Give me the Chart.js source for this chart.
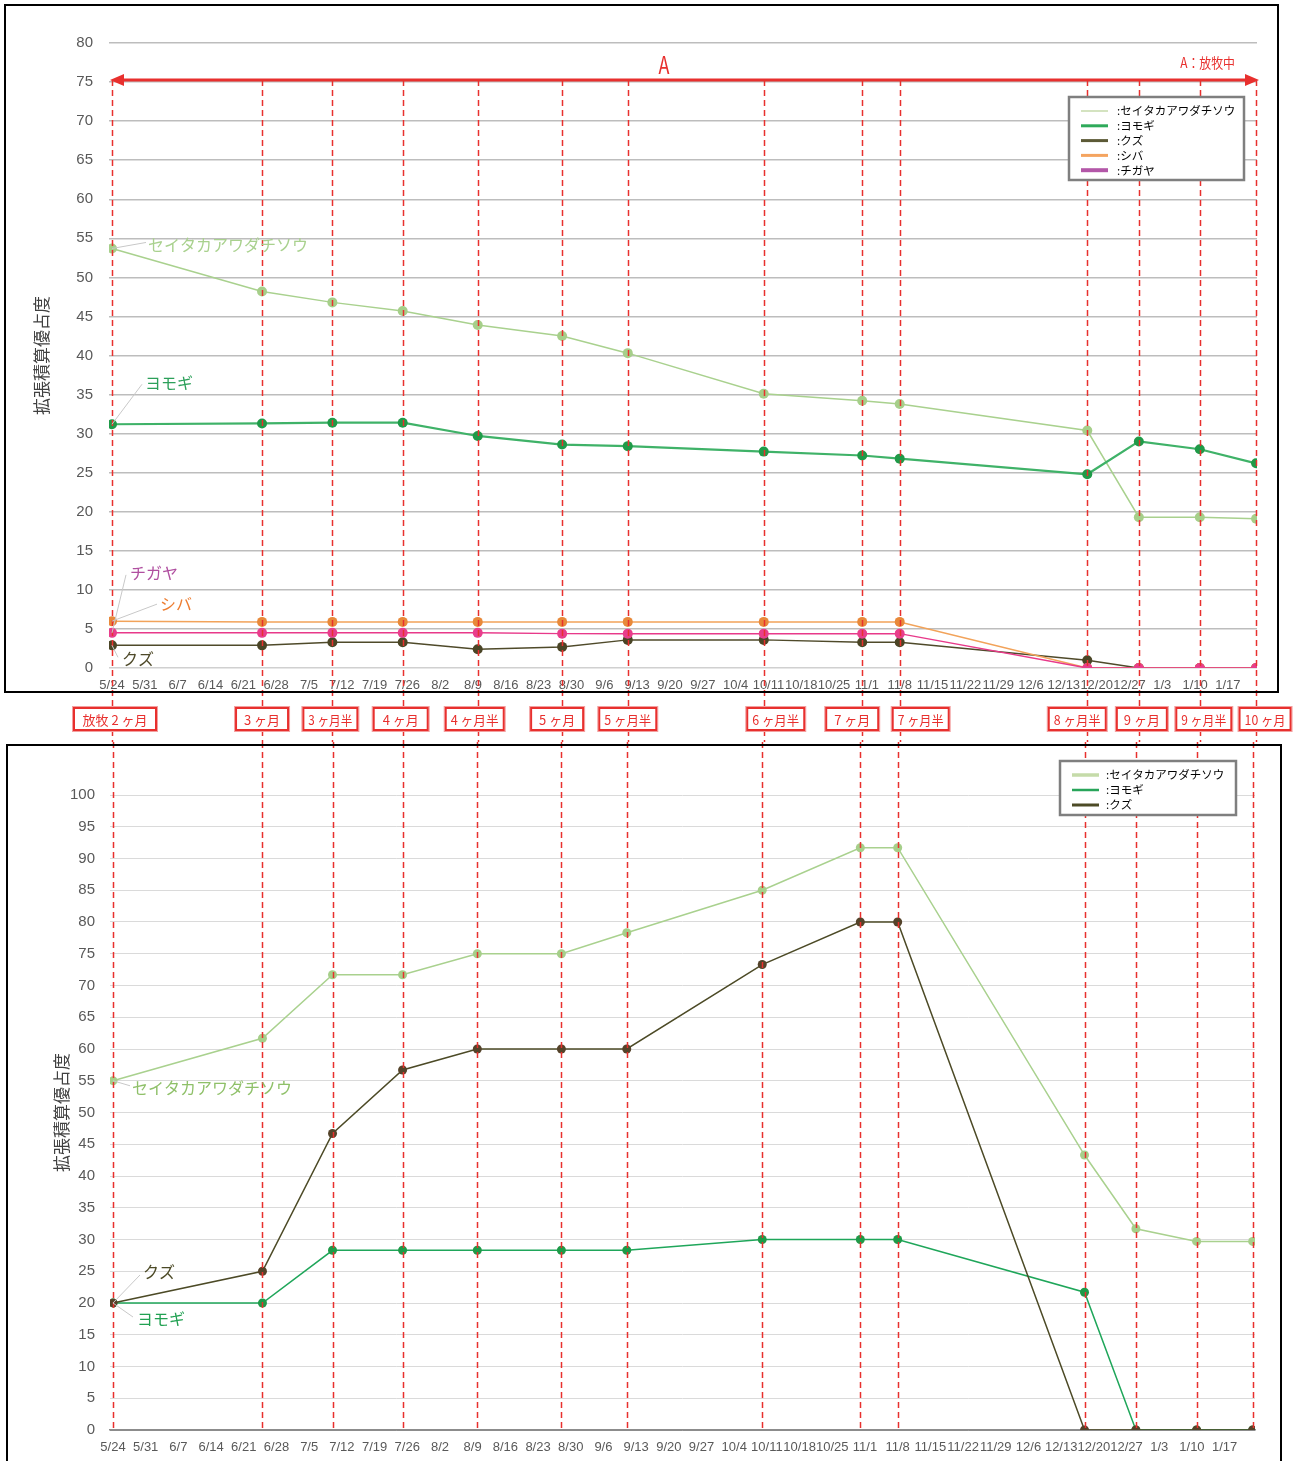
<!DOCTYPE html>
<html>
<head>
<meta charset="utf-8">
<title>拡張積算優占度</title>
<script src="https://cdn.jsdelivr.net/npm/chart.js@4.4.1/dist/chart.umd.min.js"></script>
<style>
html, body { margin: 0; padding: 0; background: #fff; }
#wrap { position: relative; width: 1299px; height: 1461px; overflow: hidden; }
#upper { position: absolute; left: 0; top: 0; }
#lower { position: absolute; left: 0; top: 742px; }
</style>
</head>
<body>
<div id="wrap">
  <canvas id="upper" width="1299" height="742"></canvas>
  <canvas id="lower" width="1299" height="719"></canvas>
</div>
<script>
// survey dates (same for both charts)
const surveyDates = ['5/24', '6/25', '7/10', '7/25', '8/10', '8/28', '9/11', '10/10', '10/31', '11/8', '12/18', '12/29', '1/11', '1/23'];
const stageLabels = ['放牧 2 ヶ月', '3 ヶ月', '3 ヶ月半', '4 ヶ月', '4 ヶ月半', '5 ヶ月', '5 ヶ月半', '6 ヶ月半', '7 ヶ月', '7 ヶ月半', '8 ヶ月半', '9 ヶ月', '9 ヶ月半', '10 ヶ月'];
const tickLabels = ['5/24', '5/31', '6/7', '6/14', '6/21', '6/28', '7/5', '7/12', '7/19', '7/26', '8/2', '8/9', '8/16', '8/23', '8/30', '9/6', '9/13', '9/20', '9/27', '10/4', '10/11', '10/18', '10/25', '11/1', '11/8', '11/15', '11/22', '11/29', '12/6', '12/13', '12/20', '12/27', '1/3', '1/10', '1/17'];

// upper chart
const upperNames = ['セイタカアワダチソウ', 'ヨモギ', 'クズ', 'シバ', 'チガヤ'];
const upperSeitaka = [53.7, 48.2, 46.8, 45.7, 43.9, 42.5, 40.3, 35.1, 34.2, 33.8, 30.4, 19.3, 19.3, 19.1];
const upperYomogi = [31.2, 31.3, 31.4, 31.4, 29.7, 28.6, 28.4, 27.7, 27.2, 26.8, 24.8, 29.0, 28.0, 26.2];
const upperKuzu = [2.9, 2.9, 3.3, 3.3, 2.4, 2.7, 3.6, 3.6, 3.3, 3.3, 1.0, 0, 0, 0];
const upperShiba = [6.0, 5.9, 5.9, 5.9, 5.9, 5.9, 5.9, 5.9, 5.9, 5.9, 0, 0, 0, 0];
const upperChigaya = [4.5, 4.5, 4.5, 4.5, 4.5, 4.4, 4.4, 4.4, 4.4, 4.4, 0, 0, 0, 0];
const upperTicks = { min: 0, max: 80, step: 5 };

// lower chart
const lowerNames = ['セイタカアワダチソウ', 'ヨモギ', 'クズ'];
const lowerSeitaka = [55, 61.7, 71.7, 71.7, 75, 75, 78.3, 85, 91.7, 91.7, 43.3, 31.7, 29.7, 29.7];
const lowerYomogi = [20, 20, 28.3, 28.3, 28.3, 28.3, 28.3, 30, 30, 30, 21.7, 0, 0, 0];
const lowerKuzu = [20, 25, 46.7, 56.7, 60, 60, 60, 73.3, 80, 80, 0, 0, 0, 0];
const lowerTicks = { min: 0, max: 100, step: 5 };

const RED = '#e8302e';
const JP = '"Noto Sans CJK JP", "Noto Sans", sans-serif';

Chart.defaults.font.family = '"Liberation Sans", Arial, sans-serif';
Chart.defaults.animation = false;

function dayOf(md) {
    const [m, d] = md.split('/').map(Number);
    const y = m >= 5 ? 2020 : 2021;
    return Math.round((Date.UTC(y, m - 1, d) - Date.UTC(2020, 4, 24)) / 86400000);
}
const surveyDays = surveyDates.map(dayOf);
const pts = arr => arr.map((v, i) => ({ x: surveyDays[i], y: v }));

function line(label, data, color, pointColor, width, radius, order) {
    return {
        label: label, data: pts(data), order: order,
        borderColor: color, borderWidth: width,
        pointBackgroundColor: pointColor, pointBorderWidth: 0,
        pointRadius: radius, tension: 0
    };
}

function xAxis(min, max, border) {
    return {
        type: 'linear', min: min, max: max,
        grid: { display: false, drawTicks: false },
        border: border,
        afterBuildTicks: s => { s.ticks = tickLabels.map((_, i) => ({ value: i * 7 })); },
        ticks: {
            autoSkip: false, maxRotation: 0, minRotation: 0, padding: 10,
            color: '#595959', font: { size: 13 },
            callback: (v, i) => tickLabels[i]
        },
        afterFit: s => { s.height = 30; }
    };
}

function yAxis(t, width, titlePad, tickPad, gridColor, zeroColor, gridWidth) {
    return {
        min: t.min, max: t.max,
        ticks: { stepSize: t.step, padding: tickPad, color: '#595959', font: { size: 15 } },
        grid: {
            drawTicks: false, lineWidth: gridWidth,
            color: c => c.tick && c.tick.value === 0 ? zeroColor : gridColor
        },
        border: { display: false },
        title: {
            display: true, text: '拡張積算優占度', color: '#404040',
            font: { family: JP, size: 17 }, padding: { top: titlePad, bottom: 0 }
        },
        afterFit: s => { s.width = width; }
    };
}

function drawLegend(ctx, x, y, w, h, items, rowH, textX) {
    ctx.save();
    ctx.fillStyle = '#fff';
    ctx.fillRect(x, y, w, h);
    ctx.strokeStyle = '#7f7f7f';
    ctx.lineWidth = 2.5;
    ctx.strokeRect(x, y, w, h);
    ctx.font = '11.5px ' + JP;
    ctx.textBaseline = 'middle';
    items.forEach((it, i) => {
        const yy = y + 14 + i * rowH;
        ctx.strokeStyle = it.color;
        ctx.lineWidth = it.width;
        ctx.beginPath();
        ctx.moveTo(x + 12, yy);
        ctx.lineTo(x + 39, yy);
        ctx.stroke();
        ctx.fillStyle = '#000';
        ctx.fillText(':' + it.label, x + textX, yy);
    });
    ctx.restore();
}

// label next to the first point of a series, with a thin leader line
function callout(ctx, chart, di, text, color, dx, dy, lx, ly) {
    const p = chart.getDatasetMeta(di).data[0];
    ctx.save();
    ctx.strokeStyle = '#c8c8c8';
    ctx.lineWidth = 1;
    ctx.beginPath();
    ctx.moveTo(p.x, p.y);
    ctx.lineTo(p.x + lx, p.y + ly);
    ctx.stroke();
    ctx.fillStyle = color;
    ctx.font = '16px ' + JP;
    ctx.textBaseline = 'middle';
    ctx.fillText(text, p.x + dx, p.y + dy);
    ctx.restore();
}

function dashedLines(ctx, chart, y0, y1) {
    const xs = chart.scales.x;
    ctx.save();
    ctx.strokeStyle = RED;
    ctx.lineWidth = 1.5;
    ctx.setLineDash([6, 4]);
    surveyDays.forEach(d => {
        const x = Math.round(xs.getPixelForValue(d)) + 0.5;
        ctx.beginPath();
        ctx.moveTo(x, y0);
        ctx.lineTo(x, y1);
        ctx.stroke();
    });
    ctx.restore();
}

function narrowText(ctx, text, x, y, size, sx, align) {
    ctx.save();
    ctx.translate(x, y);
    ctx.scale(sx, 1);
    ctx.fillStyle = RED;
    ctx.font = size + 'px ' + JP;
    ctx.textAlign = align;
    ctx.textBaseline = 'middle';
    ctx.fillText(text, 0, 0);
    ctx.restore();
}

// stage box styling: horizontal nudge from its line, and box width
const boxNudge = [3, 0, -2, -2, -3, -5, 0, 12, -10, 21, -10, 3, 4, 9];
const boxWidth = [82, 52, 54, 54, 58, 52, 57, 57, 52, 56, 57, 50, 55, 51];

const upperDecor = {
    id: 'upperDecor',
    afterDatasetsDraw(chart) {
        const ctx = chart.ctx;
        const arrowY = chart.scales.y.getPixelForValue(75) - 2;
        dashedLines(ctx, chart, arrowY, chart.height);
    },
    afterDraw(chart) {
        const ctx = chart.ctx;
        const a = chart.chartArea;
        const xs = chart.scales.x;
        const arrowY = chart.scales.y.getPixelForValue(75) - 2;

        // frame
        ctx.save();
        ctx.strokeStyle = '#000';
        ctx.lineWidth = 2;
        ctx.strokeRect(5, 5, 1273, 687);
        ctx.restore();

        // grazing period arrow
        const ax0 = a.left + 1, ax1 = a.right + 2;
        ctx.save();
        ctx.strokeStyle = RED;
        ctx.fillStyle = RED;
        ctx.lineWidth = 3;
        ctx.beginPath();
        ctx.moveTo(ax0 + 10, arrowY);
        ctx.lineTo(ax1 - 10, arrowY);
        ctx.stroke();
        ctx.beginPath();
        ctx.moveTo(ax1, arrowY);
        ctx.lineTo(ax1 - 14, arrowY - 6);
        ctx.lineTo(ax1 - 14, arrowY + 6);
        ctx.closePath();
        ctx.fill();
        ctx.beginPath();
        ctx.moveTo(ax0, arrowY);
        ctx.lineTo(ax0 + 14, arrowY - 6);
        ctx.lineTo(ax0 + 14, arrowY + 6);
        ctx.closePath();
        ctx.fill();
        ctx.restore();
        narrowText(ctx, 'A', (a.left + a.right) / 2 - 19, arrowY - 15, 24, 0.75, 'center');
        narrowText(ctx, 'A：放牧中', a.right - 22, arrowY - 17, 14, 0.85, 'right');

        // stage boxes under the axis
        ctx.save();
        ctx.font = '13px ' + JP;
        ctx.textBaseline = 'middle';
        surveyDays.forEach((d, i) => {
            const cx = xs.getPixelForValue(d) + boxNudge[i];
            const w = boxWidth[i];
            const cy = 719;
            ctx.fillStyle = '#fff';
            ctx.fillRect(cx - w / 2, cy - 11, w, 22);
            ctx.strokeStyle = '#f3a0a0';
            ctx.lineWidth = 1;
            ctx.strokeRect(cx - w / 2 - 1.5, cy - 12.5, w + 3, 25);
            ctx.strokeStyle = RED;
            ctx.lineWidth = 2;
            ctx.strokeRect(cx - w / 2, cy - 11, w, 22);
            const tw = ctx.measureText(stageLabels[i]).width;
            const sx = Math.min(1, (w - 10) / tw);
            ctx.save();
            ctx.translate(cx, cy + 1);
            ctx.scale(sx, 1);
            ctx.fillStyle = RED;
            ctx.textAlign = 'center';
            ctx.fillText(stageLabels[i], 0, 0);
            ctx.restore();
        });
        ctx.restore();

        callout(ctx, chart, 0, upperNames[0], '#a9d18e', 36, -4, 34, -6);
        callout(ctx, chart, 1, upperNames[1], '#2ca05a', 33, -41, 30, -40);
        callout(ctx, chart, 4, upperNames[4], '#b04fa0', 18, -60, 14, -58);
        callout(ctx, chart, 3, upperNames[3], '#ed7d31', 48, -17, 45, -17);
        callout(ctx, chart, 2, upperNames[2], '#4f4a2a', 10, 14, 6, 12);

        drawLegend(ctx, a.right - 188, a.top + 54, 175, 83, [
            { label: upperNames[0], color: '#d4e3c0', width: 2 },
            { label: upperNames[1], color: '#2eaa5a', width: 3 },
            { label: upperNames[2], color: '#5c5a36', width: 3 },
            { label: upperNames[3], color: '#f4a460', width: 3 },
            { label: upperNames[4], color: '#b357a8', width: 4 }
        ], 14.8, 48);
    }
};

const lowerDecor = {
    id: 'lowerDecor',
    afterDatasetsDraw(chart) {
        dashedLines(chart.ctx, chart, 0, chart.chartArea.bottom);
    },
    afterDraw(chart) {
        const ctx = chart.ctx;
        const a = chart.chartArea;
        ctx.save();
        ctx.strokeStyle = '#000';
        ctx.lineWidth = 2;
        ctx.strokeRect(7, 3, 1274, 740);
        ctx.restore();

        callout(ctx, chart, 0, lowerNames[0], '#8fc069', 19, 7, 17, 5);
        callout(ctx, chart, 2, lowerNames[2], '#4c4a26', 30, -31, 27, -28);
        callout(ctx, chart, 1, lowerNames[1], '#21a152', 24, 16, 20, 14);

        drawLegend(ctx, a.right - 195, a.top - 34, 176, 54, [
            { label: lowerNames[0], color: '#c5dba9', width: 3.5 },
            { label: lowerNames[1], color: '#28a55a', width: 2.5 },
            { label: lowerNames[2], color: '#4d4b26', width: 3 }
        ], 15, 46);
    }
};

new Chart(document.getElementById('upper').getContext('2d'), {
    type: 'line',
    data: {
        datasets: [
            line(upperNames[0], upperSeitaka, '#a9d18e', '#a6cf8a', 1.5, 5, 4),
            line(upperNames[1], upperYomogi, '#3fb268', '#1f9a48', 2.2, 5, 3),
            line(upperNames[2], upperKuzu, '#4f4a2a', '#4a4526', 1.5, 5, 2),
            line(upperNames[3], upperShiba, '#f2a35a', '#e8893a', 1.5, 5, 1),
            line(upperNames[4], upperChigaya, '#e8398a', '#e83e8c', 1.5, 5, 0)
        ]
    },
    options: {
        responsive: false,
        layout: { padding: { top: 43, left: 0, right: 42, bottom: 44 } },
        plugins: { legend: { display: false }, tooltip: { enabled: false } },
        scales: {
            x: xAxis(-0.64, 244.2, { display: false }),
            y: yAxis(upperTicks, 109, 31, 16, '#bdbdbd', '#d0d0d0', 1.5)
        }
    },
    plugins: [upperDecor]
});

new Chart(document.getElementById('lower').getContext('2d'), {
    type: 'line',
    data: {
        datasets: [
            line(lowerNames[0], lowerSeitaka, '#a9d18e', '#a6cf8a', 1.5, 4.5, 2),
            line(lowerNames[1], lowerYomogi, '#1fa65a', '#1f9a48', 1.5, 4.5, 1),
            line(lowerNames[2], lowerKuzu, '#4c4a26', '#54432a', 1.5, 4.5, 0)
        ]
    },
    options: {
        responsive: false,
        layout: { padding: { top: 53, left: 0, right: 44, bottom: 1 } },
        plugins: { legend: { display: false }, tooltip: { enabled: false } },
        scales: {
            x: xAxis(-0.64, 244.5, { display: true, color: '#8c8c8c', width: 1.5 }),
            y: yAxis(lowerTicks, 110, 51, 15, '#dadada', '#8c8c8c', 1)
        }
    },
    plugins: [lowerDecor]
});
</script>
</body>
</html>
